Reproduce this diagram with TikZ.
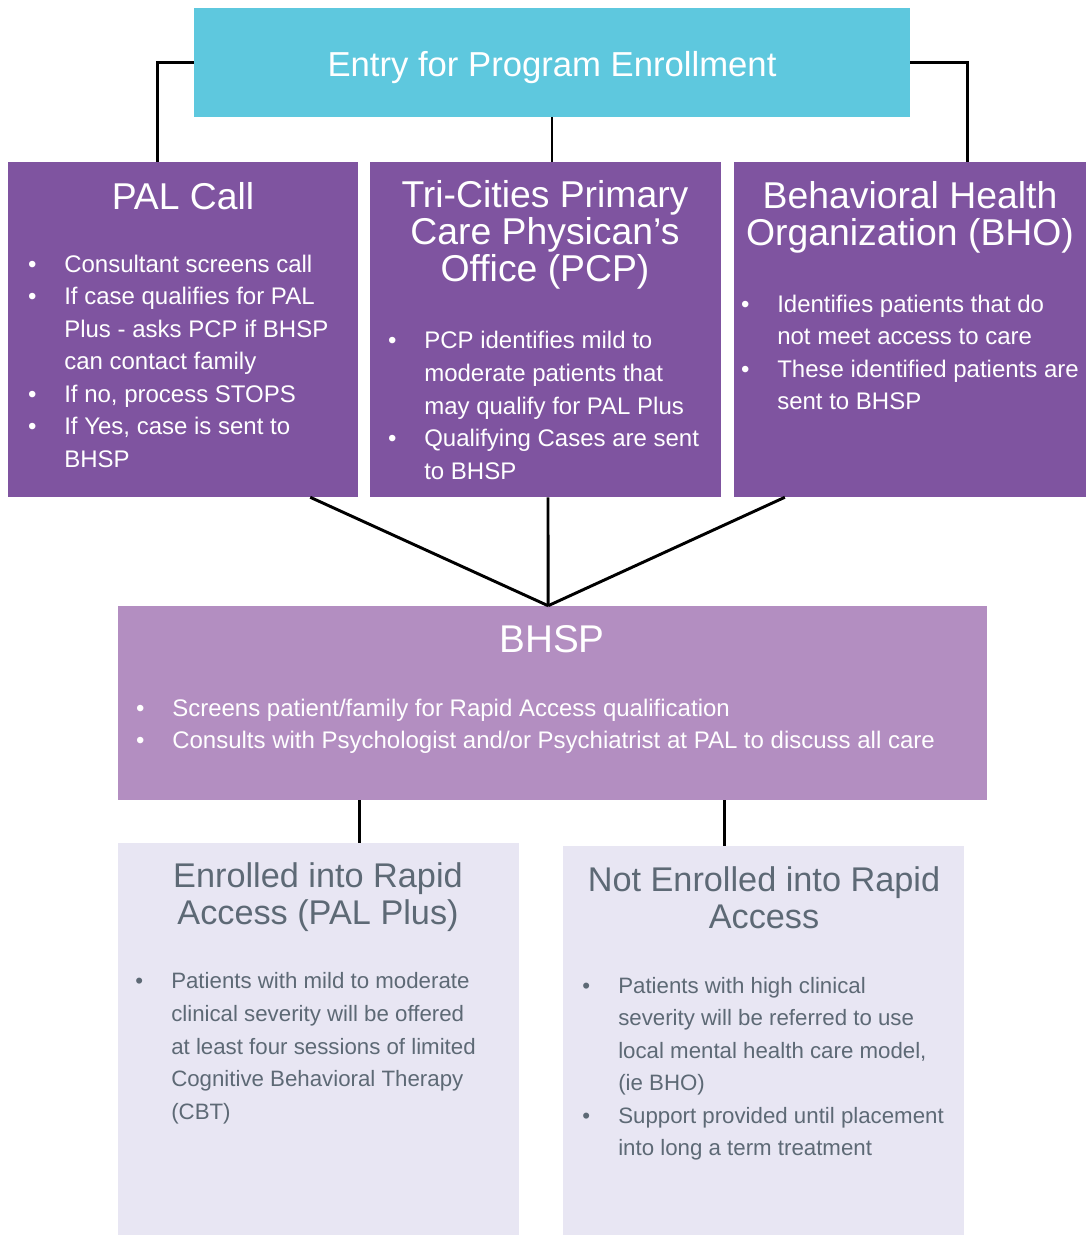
\documentclass[tikz,border=0pt]{standalone}
\usepackage{fontspec}
\setmainfont{Liberation Sans}
\usetikzlibrary{fit,calc}
\definecolor{cyanbox}{HTML}{5EC8DE}
\definecolor{purbox}{HTML}{7F54A0}
\definecolor{bhspbox}{HTML}{B38EC1}
\definecolor{lightbox}{HTML}{E8E6F3}
\definecolor{graytext}{HTML}{5D6975}
\newcommand\bl{\makebox[24pt][l]{\makebox[0pt]{•}}}
\newcommand\ind{\hspace*{24pt}}
\begin{document}
% multi-line nodes are placed by the baseline of their LAST line
\begin{tikzpicture}[x=0.75pt,y=-0.75pt,
  entrybox/.style={fill=cyanbox, inner sep=0pt},
  srcbox/.style={fill=purbox, inner sep=0pt},
  bhspstyle/.style={fill=bhspbox, inner sep=0pt},
  outbox/.style={fill=lightbox, inner sep=0pt},
  conn/.style={draw=black, line width=2.2pt},
  wtitle/.style={text=white, align=center, anchor=base, inner sep=0pt, font=\fontsize{28}{27.75}\selectfont},
  wbody/.style={text=white, align=left, anchor=base west, inner sep=0pt, font=\fontsize{18}{24.4}\selectfont},
  gtitle/.style={text=graytext, align=center, anchor=base, inner sep=0pt, font=\fontsize{25.7}{27.75}\selectfont},
  gbody/.style={text=graytext, align=left, anchor=base west, inner sep=0pt, font=\fontsize{16.7}{24.4}\selectfont}]
\useasboundingbox (0,0) rectangle (1086,1235);
\fill[white] (0,0) rectangle (1086,1235);

% boxes
\node[entrybox, fit={(194,8) (910,117)}] (entry) {};
\node[srcbox, fit={(8,162) (358,497)}] (pal) {};
\node[srcbox, fit={(370,162) (721,497)}] (pcp) {};
\node[srcbox, fit={(734,162) (1086,497)}] (bho) {};
\node[bhspstyle, fit={(118,606) (987,800)}] (bhsp) {};
\node[outbox, fit={(118,843) (519,1235)}] (enr) {};
\node[outbox, fit={(563,846) (964,1235)}] (notenr) {};

% texts
\node[wtitle, font=\fontsize{26}{28}\selectfont] (entryt) at (552,76) {Entry for Program Enrollment};

\node[wtitle] (palt) at (183,209) {PAL Call};
\node[wbody] (palb) at (32,467.2) {\bl Consultant screens call\\
\bl If case qualifies for PAL\\
\ind Plus - asks PCP if BHSP\\
\ind can contact family\\
\bl If no, process STOPS\\
\bl If Yes, case is sent to\\
\ind BHSP};

\node[wtitle] (pcpt) at (545,281) {Tri-Cities Primary\\Care Physican’s\\Office (PCP)};
\node[wbody] (pcpb) at (392,479.1) {\bl PCP identifies mild to\\
\ind moderate patients that\\
\ind may qualify for PAL Plus\\
\bl Qualifying Cases are sent\\
\ind to BHSP};

\node[wtitle] (bhot) at (910,245) {Behavioral Health\\Organization (BHO)};
\node[wbody] (bhob) at (745,409.6) {\bl Identifies patients that do\\
\ind not meet access to care\\
\bl These identified patients are\\
\ind sent to BHSP};

\node[wtitle, font=\fontsize{29}{30}\selectfont] (bhspt) at (552,652) {BHSP};
\node[wbody, font=\fontsize{18}{23.5}\selectfont] (bhspb) at (140,748.3) {\bl Screens patient/family for Rapid Access qualification\\
\bl Consults with Psychologist and/or Psychiatrist at PAL to discuss all care};

\node[gtitle] (enrt) at (318,924) {Enrolled into Rapid\\Access (PAL Plus)};
\node[gbody] (enrb) at (139,1119.1) {\bl Patients with mild to moderate\\
\ind clinical severity will be offered\\
\ind at least four sessions of limited\\
\ind Cognitive Behavioral Therapy\\
\ind (CBT)};

\node[gtitle] (notenrt) at (764,928) {Not Enrolled into Rapid\\Access};
\node[gbody] (notenrb) at (586,1155.7) {\bl Patients with high clinical\\
\ind severity will be referred to use\\
\ind local mental health care model,\\
\ind (ie BHO)\\
\bl Support provided until placement\\
\ind into long a term treatment};

% connectors
\draw[conn] (entry.west) -| ($(pal.north west)!0.426!(pal.north east)$);
\draw[conn] (entry.east) -| ($(bho.north west)!0.662!(bho.north east)$);
\draw[conn] (entry.south) -- (entry.south |- pcp.north);
\coordinate (meet) at ($(bhsp.north west)!0.495!(bhsp.north east)$);
\draw[conn] ($(pal.south west)!0.863!(pal.south east)$) -- (meet);
\draw[conn] ($(pcp.south west)!0.507!(pcp.south east)$) -- (meet);
\draw[conn] ($(bho.south west)!0.145!(bho.south east)$) -- (meet);
\coordinate (e1) at ($(enr.north west)!0.603!(enr.north east)$);
\draw[conn] (e1 |- bhsp.south) -- (e1);
\coordinate (n1) at ($(notenr.north west)!0.404!(notenr.north east)$);
\draw[conn] (n1 |- bhsp.south) -- (n1);
\end{tikzpicture}
\end{document}
